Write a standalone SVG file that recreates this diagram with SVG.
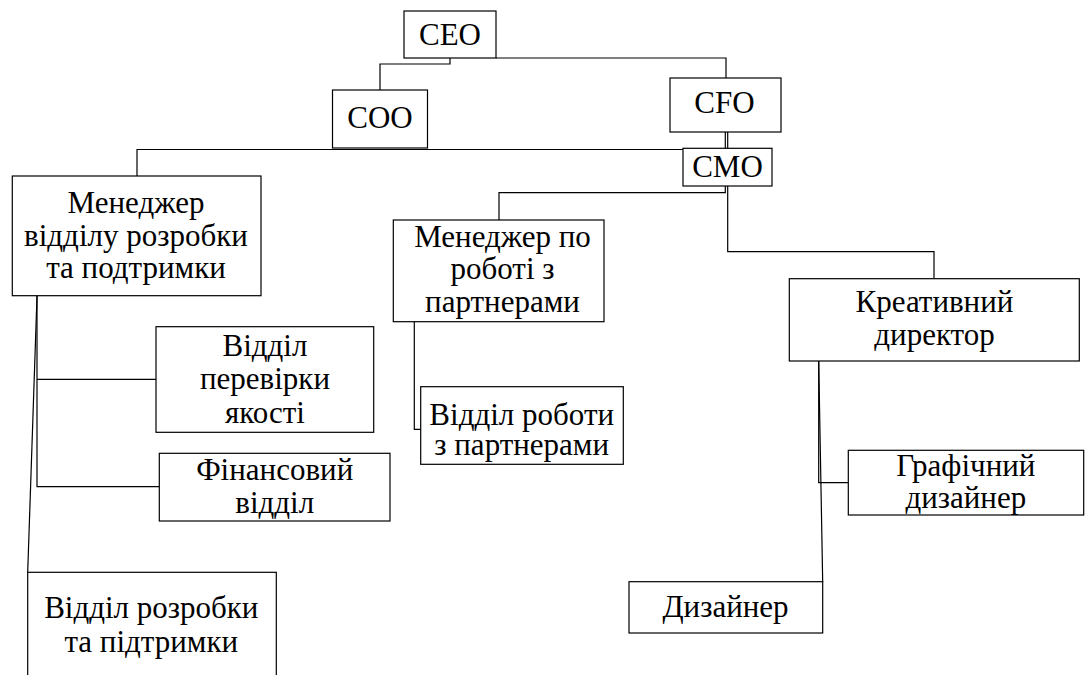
<svg xmlns="http://www.w3.org/2000/svg" width="1085" height="675" viewBox="0 0 1085 675" font-family="'Liberation Serif', 'Times New Roman', serif" font-size="31">
<style>
.box{fill:#fff;stroke:#000;stroke-width:1.2}
.ln{fill:none;stroke:#000;stroke-width:1.2}
</style>
<rect width="1085" height="675" fill="#fff"/>
<g id="connectors">
<path class="ln" d="M450,58 V64 H380 V90"/>
<path class="ln" d="M496,58 H726 V78"/>
<path class="ln" d="M725.3,132 V148.3 M727.7,132 V148.3"/>
<path class="ln" d="M683,149.5 H137 V176"/>
<path class="ln" d="M725.3,186 V192.7 H499 V220"/>
<path class="ln" d="M727.7,186 V251.7 H934 V279"/>
<path class="ln" d="M37,296 V486.7 H159 M37,379.3 H156"/>
<path class="ln" d="M37,296 L27.7,572.3"/>
<path class="ln" d="M414.3,322 V429.3 H421"/>
<path class="ln" d="M818.7,361 V482.7 H848.3"/>
<path class="ln" d="M818.7,361 L822.7,582"/>
</g>
<g id="ceo"><rect class="box" x="404" y="11" width="92" height="47"/><text text-anchor="middle" x="450" y="44.5">CEO</text></g>
<g id="coo"><rect class="box" x="332.5" y="90" width="95" height="58"/><text text-anchor="middle" x="380" y="128.3">COO</text></g>
<g id="cfo"><rect class="box" x="670" y="78" width="111" height="54"/><text text-anchor="middle" x="724.5" y="113.3">CFO</text></g>
<g id="cmo"><rect class="box" x="683" y="148.3" width="89" height="37.7"/><text text-anchor="middle" x="727.5" y="176.7">CMO</text></g>
<g id="dev-manager"><rect class="box" x="12.3" y="176" width="248.7" height="119.7"/>
<text text-anchor="middle" x="136" y="212.7">Менеджер</text><text text-anchor="middle" x="136" y="245.7">відділу розробки</text><text text-anchor="middle" x="136" y="278.3">та подтримки</text></g>
<g id="qa"><rect class="box" x="156" y="326.7" width="217.7" height="105.6"/>
<text text-anchor="middle" x="265" y="356">Відділ</text><text text-anchor="middle" x="265" y="389.3">перевірки</text><text text-anchor="middle" x="265" y="422.7">якості</text></g>
<g id="finance"><rect class="box" x="159.3" y="453.3" width="230.7" height="67.7"/>
<text text-anchor="middle" x="274.7" y="480">Фінансовий</text><text text-anchor="middle" x="274.7" y="513.3">відділ</text></g>
<g id="dev-dept"><rect class="box" x="27.7" y="572.3" width="248.6" height="120"/>
<text text-anchor="middle" x="151.3" y="618.3">Відділ розробки</text><text text-anchor="middle" x="151.3" y="651.7">та підтримки</text></g>
<g id="partner-manager"><rect class="box" x="393.3" y="220" width="210.7" height="101.7"/>
<text text-anchor="middle" x="502.5" y="246.7">Менеджер по</text><text text-anchor="middle" x="502.5" y="279">роботі з</text><text text-anchor="middle" x="502.5" y="312.3">партнерами</text></g>
<g id="partner-dept"><rect class="box" x="420.7" y="386.7" width="202.6" height="77.6"/>
<text text-anchor="middle" x="521.7" y="424.5">Відділ роботи</text><text text-anchor="middle" x="521.7" y="455">з партнерами</text></g>
<g id="creative-director"><rect class="box" x="789.3" y="278.7" width="290" height="82.3"/>
<text text-anchor="middle" x="934.5" y="311.7">Креативний</text><text text-anchor="middle" x="934.5" y="345">директор</text></g>
<g id="graphic-designer"><rect class="box" x="848.3" y="450.3" width="235.4" height="64.7"/>
<text text-anchor="middle" x="965.8" y="476">Графічний</text><text text-anchor="middle" x="965.8" y="508.3">дизайнер</text></g>
<g id="designer"><rect class="box" x="629" y="581.7" width="193.7" height="51.3"/>
<text text-anchor="middle" x="725.5" y="616.7">Дизайнер</text></g>
</svg>
